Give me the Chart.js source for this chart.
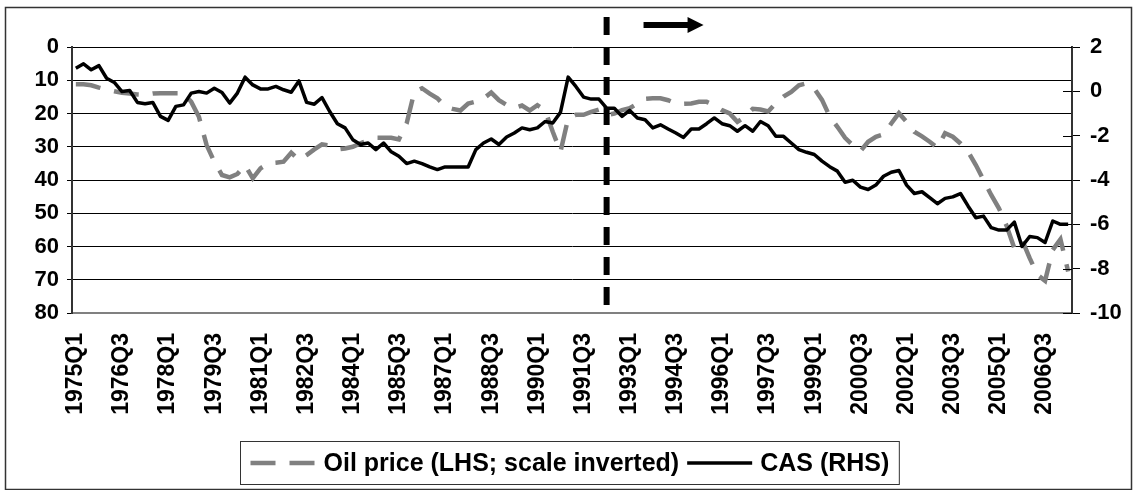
<!DOCTYPE html>
<html>
<head>
<meta charset="utf-8">
<script src="https://cdn.jsdelivr.net/npm/chart.js@4.4.1/dist/chart.umd.min.js"></script>
<style>
  html, body { margin: 0; padding: 0; background: #fff; }
  #wrap { width: 1138px; height: 490px; }
</style>
</head>
<body>
<div id="wrap"><canvas id="chart" width="1138" height="490"></canvas></div>
<script>
// Oil price vs CAS, quarterly 1975Q1 - 2007Q2
const startYear = 1975;
const nQuarters = 130;
const quarters = [];
for (let i = 0; i < nQuarters; i++) quarters.push((startYear + Math.floor(i / 4)) + 'Q' + (i % 4 + 1));

const xTickLabels = ['1975Q1', '1976Q3', '1978Q1', '1979Q3', '1981Q1', '1982Q3', '1984Q1', '1985Q3',
  '1987Q1', '1988Q3', '1990Q1', '1991Q3', '1993Q1', '1994Q3', '1996Q1', '1997Q3', '1999Q1',
  '2000Q3', '2002Q1', '2003Q3', '2005Q1', '2006Q3'];

// LHS, scale inverted
const oilPrice = [
  11.2, 11.2, 11.5, 12.2, 12.8, 13.3, 13.8, 14.0, 14.3, 14.4,
  14.0, 13.9, 13.9, 13.9, 13.9, 16.5, 21.0, 29.5, 34.5, 38.5,
  39.2, 38.2, 35.5, 39.5, 36.5, 35.0, 34.8, 34.5, 31.8, 34.0,
  32.5, 30.8, 29.3, 29.6, 30.8, 30.5, 30.0, 29.0, 28.0, 27.3,
  27.3, 27.3, 27.8, 23.0, 13.5, 12.4, 14.0, 15.4, 17.9, 18.6,
  19.1, 17.0, 16.4, 15.5, 13.7, 16.0, 17.4, 18.4, 17.6, 19.1,
  17.5, 19.0, 25.5, 31.5, 21.5, 20.4, 20.4, 19.5, 18.8, 20.5,
  20.0, 19.0, 18.4, 17.0, 15.6, 15.4, 15.4, 16.0, 17.0, 17.1,
  17.0, 16.5, 16.5, 17.5, 19.0, 20.0, 22.5, 21.0, 18.6, 18.8,
  19.4, 16.9, 14.9, 13.5, 11.5, 10.9, 12.5, 15.9, 20.9, 24.0,
  27.3, 29.5, 31.3, 28.5, 27.0, 26.3, 23.0, 19.9, 22.5, 25.5,
  26.9, 28.5, 30.3, 25.9, 27.0, 29.0, 31.5, 35.5, 40.0, 44.5,
  48.5, 53.8, 60.5, 58.0, 63.5, 68.5, 70.3, 61.0, 57.8, 67.5
];

// RHS
const cas = [
  1.04, 1.24, 0.97, 1.16, 0.59, 0.40, -0.01, 0.04, -0.50, -0.56,
  -0.50, -1.13, -1.31, -0.68, -0.61, -0.08, -0.01, -0.08, 0.14, -0.05,
  -0.53, -0.08, 0.64, 0.29, 0.11, 0.11, 0.22, 0.07, -0.04, 0.47,
  -0.50, -0.58, -0.28, -0.91, -1.46, -1.65, -2.18, -2.40, -2.33, -2.63,
  -2.33, -2.73, -2.93, -3.26, -3.15, -3.26, -3.41, -3.53, -3.41, -3.41,
  -3.41, -3.41, -2.63, -2.33, -2.15, -2.40, -2.06, -1.88, -1.65, -1.73,
  -1.65, -1.36, -1.43, -0.95, 0.64, 0.22, -0.26, -0.35, -0.35, -0.76,
  -0.76, -1.13, -0.86, -1.20, -1.28, -1.65, -1.51, -1.70, -1.88, -2.08,
  -1.70, -1.70, -1.46, -1.20, -1.46, -1.55, -1.80, -1.55, -1.80, -1.36,
  -1.55, -2.03, -2.03, -2.33, -2.63, -2.75, -2.85, -3.15, -3.40, -3.60,
  -4.10, -4.01, -4.32, -4.43, -4.23, -3.83, -3.65, -3.57, -4.23, -4.61,
  -4.53, -4.80, -5.07, -4.83, -4.76, -4.61, -5.18, -5.70, -5.63, -6.15,
  -6.26, -6.26, -5.90, -7.00, -6.55, -6.60, -6.82, -5.85, -6.00, -6.00
];

const breakQuarter = '1992Q2';

const font = '"Liberation Sans", Arial, sans-serif';
const grey = '#808080';

const frame = {
    id: 'frame',
    beforeDraw(chart) {
        const ctx = chart.ctx;
        ctx.save();
        ctx.strokeStyle = '#333';
        ctx.lineWidth = 1.5;
        ctx.strokeRect(5.5, 7.5, 1126, 482);
        ctx.restore();
    },
    afterDatasetsDraw(chart) {
        const ctx = chart.ctx;
        const x = chart.scales.x;
        const y1 = chart.scales.y1;
        const area = chart.chartArea;
        ctx.save();
        // inner half of RHS ticks
        ctx.strokeStyle = '#000';
        ctx.lineWidth = 1;
        y1.ticks.forEach(t => {
            const py = Math.round(y1.getPixelForValue(t.value)) + 0.5;
            ctx.beginPath();
            ctx.moveTo(area.right - 9, py);
            ctx.lineTo(area.right, py);
            ctx.stroke();
        });
        // break line
        const bx = x.getPixelForValue(quarters.indexOf(breakQuarter));
        ctx.strokeStyle = '#000';
        ctx.lineWidth = 6;
        ctx.setLineDash([18, 12]);
        ctx.beginPath();
        ctx.moveTo(bx, 17);
        ctx.lineTo(bx, area.bottom - 2);
        ctx.stroke();
        ctx.setLineDash([]);
        // arrow
        const a0 = x.getPixelForValue(quarters.indexOf(breakQuarter) + 4.8);
        const a1 = x.getPixelForValue(quarters.indexOf(breakQuarter) + 12.6);
        ctx.lineWidth = 6;
        ctx.beginPath();
        ctx.moveTo(a0, 25);
        ctx.lineTo(a1 - 14, 25);
        ctx.stroke();
        ctx.fillStyle = '#000';
        ctx.beginPath();
        ctx.moveTo(a1 - 16, 17);
        ctx.lineTo(a1, 25);
        ctx.lineTo(a1 - 16, 33);
        ctx.closePath();
        ctx.fill();
        ctx.restore();
    },
    afterDraw(chart) {
        // legend box
        const ctx = chart.ctx;
        const ds = chart.data.datasets;
        ctx.save();
        ctx.font = 'bold 25px ' + font;
        ctx.textBaseline = 'middle';
        ctx.fillStyle = '#000';
        const sample = 65, gap = 8, pad = 10;
        let w = pad;
        ds.forEach(d => { w += sample + gap + ctx.measureText(d.label).width + gap; });
        w += pad - gap;
        const left = Math.round((chart.width - w) / 2) + 0.5;
        const top = 441.5, h = 43;
        ctx.strokeStyle = '#333';
        ctx.lineWidth = 1;
        ctx.strokeRect(left, top, w, h);
        const cy = top + h / 2;
        let cx = left + pad;
        ds.forEach(d => {
            ctx.strokeStyle = d.borderColor;
            ctx.lineWidth = d.borderWidth;
            ctx.setLineDash(d.borderDash || []);
            ctx.beginPath();
            ctx.moveTo(cx, cy);
            ctx.lineTo(cx + sample, cy);
            ctx.stroke();
            ctx.setLineDash([]);
            cx += sample + gap;
            ctx.fillText(d.label, cx, cy + 1);
            cx += ctx.measureText(d.label).width + gap;
        });
        ctx.restore();
    }
};

new Chart(document.getElementById('chart'), {
    type: 'line',
    data: {
        labels: quarters,
        datasets: [
            {
                label: 'Oil price (LHS; scale inverted)',
                data: oilPrice,
                yAxisID: 'y',
                borderColor: grey,
                borderWidth: 4.5,
                borderDash: [25, 14],
                pointRadius: 0,
                tension: 0,
                order: 2
            },
            {
                label: 'CAS (RHS)',
                data: cas,
                yAxisID: 'y1',
                borderColor: '#000',
                borderWidth: 3.5,
                borderJoinStyle: 'round',
                pointRadius: 0,
                tension: 0,
                order: 1
            }
        ]
    },
    options: {
        responsive: false,
        animation: false,
        devicePixelRatio: 1,
        layout: { padding: { left: 0, right: 0, top: 47, bottom: 72 } },
        plugins: { legend: { display: false }, tooltip: { enabled: false } },
        scales: {
            x: {
                offset: true,
                grid: { display: false, drawTicks: false },
                border: { color: grey, width: 2 },
                afterFit: s => { s.height = 105; },
                ticks: {
                    autoSkip: false,
                    maxRotation: 90,
                    minRotation: 90,
                    padding: 20,
                    color: '#000',
                    font: { family: font, size: 23, weight: 'bold' },
                    callback: function (v) {
                        const l = this.getLabelForValue(v);
                        return xTickLabels.includes(l) ? l : '';
                    }
                }
            },
            y: {
                position: 'left',
                reverse: true,
                min: 0,
                max: 80,
                grid: { color: '#000', lineWidth: 1, tickLength: 5 },
                border: { color: '#333', width: 2 },
                afterFit: s => { s.width = 72; },
                ticks: {
                    stepSize: 10,
                    padding: 8,
                    color: '#000',
                    font: { family: font, size: 22, weight: 'bold' }
                }
            },
            y1: {
                position: 'right',
                min: -10,
                max: 2,
                grid: { drawOnChartArea: false, color: '#000', tickLength: 8 },
                border: { color: '#333', width: 2 },
                afterFit: s => { s.width = 66; },
                ticks: {
                    stepSize: 2,
                    padding: 10,
                    color: '#000',
                    font: { family: font, size: 22, weight: 'bold' }
                }
            }
        }
    },
    plugins: [frame]
});
</script>
</body>
</html>
